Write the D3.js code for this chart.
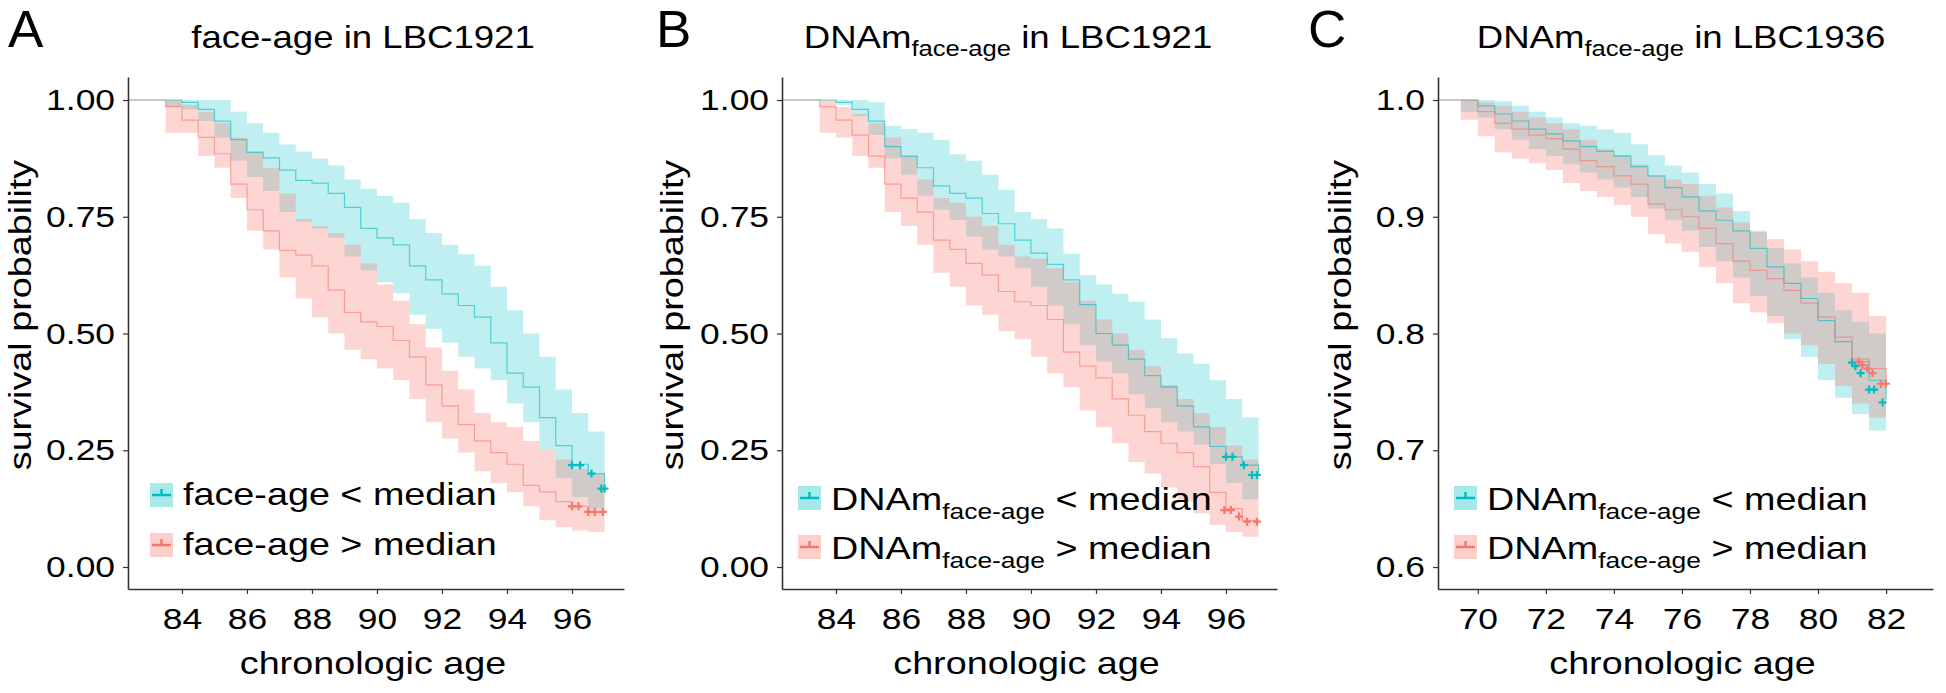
<!DOCTYPE html>
<html lang="en">
<head>
<meta charset="utf-8">
<title>Survival by face-age and DNAm face-age</title>
<script src="https://cdn.jsdelivr.net/npm/d3@7"></script>
<style>
  body { margin: 0; background: #fff; }
  text { font-family: "Liberation Sans", Arial, sans-serif; fill: #000; }
</style>
</head>
<body>
<script>
// ---- values ----
// ticks
const xTicksAB = [84, 86, 88, 90, 92, 94, 96];
const xTicksC = [70, 72, 74, 76, 78, 80, 82];
const yTicksAB = [0, 0.25, 0.5, 0.75, 1];
const yTicksC = [0.6, 0.7, 0.8, 0.9, 1.0];

// A: face-age in LBC1921 (step starts)
const agesA = [83.0, 83.5, 84.0, 84.5, 85.0, 85.5, 86.0, 86.5, 87.0, 87.5, 88.0, 88.5, 89.0, 89.5, 90.0,
               90.5, 91.0, 91.5, 92.0, 92.5, 93.0, 93.5, 94.0, 94.5, 95.0, 95.5, 96.0, 96.5, 97.0];
const lowSurvA  = [1.0, 1.0, 0.995, 0.98, 0.955, 0.915, 0.888, 0.876, 0.85, 0.828, 0.822, 0.80, 0.77, 0.725, 0.705,
                   0.69, 0.645, 0.615, 0.585, 0.56, 0.535, 0.48, 0.415, 0.385, 0.32, 0.26, 0.22, 0.20, 0.168];
const lowUpperA = [1.0, 1.0, 1.0, 1.0, 1.0, 0.975, 0.95, 0.93, 0.905, 0.89, 0.875, 0.86, 0.83, 0.81, 0.795,
                   0.78, 0.745, 0.715, 0.69, 0.67, 0.645, 0.60, 0.55, 0.50, 0.45, 0.38, 0.33, 0.29, 0.265];
const lowLowerA = [1.0, 0.985, 0.98, 0.955, 0.92, 0.87, 0.835, 0.805, 0.76, 0.74, 0.725, 0.705, 0.665, 0.635, 0.61,
                   0.586, 0.54, 0.51, 0.48, 0.45, 0.425, 0.40, 0.35, 0.31, 0.25, 0.19, 0.15, 0.125, 0.10];
const highSurvA  = [1.0, 0.986, 0.957, 0.92, 0.885, 0.82, 0.765, 0.72, 0.678, 0.668, 0.645, 0.593, 0.545, 0.525, 0.515,
                    0.485, 0.45, 0.39, 0.345, 0.305, 0.27, 0.245, 0.22, 0.175, 0.161, 0.14, 0.13, 0.118, 0.118];
const highUpperA = [1.0, 1.0, 0.99, 0.975, 0.95, 0.92, 0.89, 0.855, 0.8, 0.745, 0.73, 0.715, 0.69, 0.65, 0.605,
                    0.57, 0.52, 0.47, 0.42, 0.38, 0.33, 0.31, 0.3, 0.27, 0.25, 0.23, 0.21, 0.2, 0.19];
const highLowerA = [1.0, 0.93, 0.93, 0.88, 0.855, 0.79, 0.72, 0.68, 0.62, 0.575, 0.535, 0.5, 0.465, 0.445, 0.425,
                    0.4, 0.36, 0.31, 0.275, 0.245, 0.205, 0.18, 0.16, 0.13, 0.1, 0.085, 0.078, 0.075, 0.073];
const lowCensorAgeA = [96.0, 96.25, 96.6, 96.9, 97.0];
const lowCensorSurvA = [0.218, 0.218, 0.2, 0.168, 0.168];
const highCensorAgeA = [96.0, 96.2, 96.5, 96.7, 96.95];
const highCensorSurvA = [0.13, 0.13, 0.118, 0.118, 0.118];

// B: DNAm face-age in LBC1921
const agesB = agesA;
const lowSurvB  = [1.0, 1.0, 0.995, 0.98, 0.955, 0.9, 0.88, 0.855, 0.816, 0.8, 0.79, 0.757, 0.735, 0.7, 0.672,
                   0.648, 0.615, 0.562, 0.5, 0.475, 0.445, 0.41, 0.385, 0.345, 0.3, 0.258, 0.236, 0.218, 0.197];
const lowUpperB = [1.0, 1.0, 1.0, 1.0, 0.995, 0.945, 0.938, 0.93, 0.915, 0.884, 0.87, 0.84, 0.808, 0.76, 0.745,
                   0.725, 0.671, 0.625, 0.605, 0.585, 0.568, 0.53, 0.49, 0.457, 0.435, 0.4, 0.36, 0.32, 0.29];
const lowLowerB = [1.0, 1.0, 0.99, 0.965, 0.925, 0.875, 0.84, 0.795, 0.765, 0.743, 0.707, 0.68, 0.665, 0.64, 0.6,
                   0.56, 0.52, 0.475, 0.44, 0.415, 0.37, 0.34, 0.31, 0.29, 0.262, 0.22, 0.18, 0.145, 0.12];
const highSurvB  = [1.0, 0.986, 0.957, 0.925, 0.88, 0.82, 0.79, 0.76, 0.7, 0.68, 0.65, 0.625, 0.59, 0.568, 0.56,
                    0.53, 0.46, 0.43, 0.405, 0.36, 0.325, 0.29, 0.265, 0.245, 0.215, 0.16, 0.125, 0.1, 0.097];
const highUpperB = [1.0, 1.0, 0.985, 0.97, 0.95, 0.92, 0.88, 0.83, 0.79, 0.78, 0.75, 0.73, 0.69, 0.665, 0.66,
                    0.64, 0.61, 0.57, 0.53, 0.5, 0.465, 0.43, 0.39, 0.36, 0.33, 0.3, 0.26, 0.23, 0.2];
const highLowerB = [1.0, 0.93, 0.92, 0.88, 0.855, 0.76, 0.73, 0.69, 0.63, 0.6, 0.56, 0.54, 0.505, 0.488, 0.45,
                    0.415, 0.385, 0.335, 0.3, 0.265, 0.225, 0.2, 0.17, 0.14, 0.115, 0.09, 0.075, 0.065, 0.06];
const lowCensorAgeB = [96.0, 96.2, 96.55, 96.8, 96.95];
const lowCensorSurvB = [0.236, 0.236, 0.218, 0.197, 0.197];
const highCensorAgeB = [95.95, 96.15, 96.4, 96.65, 96.95];
const highCensorSurvB = [0.122, 0.122, 0.108, 0.097, 0.097];

// C: DNAm face-age in LBC1936
const agesC = [69.5, 70.0, 70.5, 71.0, 71.5, 72.0, 72.5, 73.0, 73.5, 74.0, 74.5, 75.0, 75.5,
               76.0, 76.5, 77.0, 77.5, 78.0, 78.5, 79.0, 79.5, 80.0, 80.5, 81.0, 81.5, 82.0];
const lowSurvC  = [1.0, 0.995, 0.988, 0.982, 0.975, 0.971, 0.965, 0.96, 0.956, 0.952, 0.943, 0.935, 0.925,
                   0.917, 0.905, 0.897, 0.888, 0.873, 0.857, 0.843, 0.83, 0.811, 0.793, 0.776, 0.76, 0.743];
const lowUpperC = [1.0, 1.0, 0.999, 0.995, 0.99, 0.985, 0.98, 0.978, 0.975, 0.972, 0.962, 0.953, 0.944,
                   0.938, 0.928, 0.92, 0.905, 0.888, 0.873, 0.86, 0.848, 0.835, 0.82, 0.81, 0.8, 0.79];
const lowLowerC = [0.99, 0.985, 0.975, 0.966, 0.958, 0.952, 0.945, 0.938, 0.932, 0.925, 0.917, 0.907, 0.897,
                   0.888, 0.874, 0.862, 0.848, 0.832, 0.815, 0.795, 0.78, 0.76, 0.745, 0.731, 0.717, 0.7];
const highSurvC  = [1.0, 0.99, 0.98, 0.975, 0.97, 0.967, 0.958, 0.948, 0.943, 0.935, 0.928, 0.911, 0.906,
                    0.9, 0.89, 0.877, 0.862, 0.854, 0.847, 0.837, 0.826, 0.814, 0.797, 0.778, 0.77, 0.757];
const highUpperC = [1.0, 0.998, 0.995, 0.99, 0.985, 0.98, 0.975, 0.966, 0.958, 0.953, 0.945, 0.935, 0.932,
                    0.928, 0.918, 0.908, 0.895, 0.887, 0.881, 0.872, 0.862, 0.853, 0.843, 0.835, 0.815, 0.8];
const highLowerC = [0.983, 0.969, 0.955, 0.95, 0.946, 0.94, 0.929, 0.922, 0.917, 0.91, 0.9, 0.885, 0.877,
                    0.87, 0.857, 0.843, 0.826, 0.818, 0.809, 0.8, 0.79, 0.774, 0.755, 0.74, 0.728, 0.714];
const lowCensorAgeC = [81.0, 81.1, 81.25, 81.5, 81.65, 81.9];
const lowCensorSurvC = [0.775, 0.772, 0.766, 0.752, 0.752, 0.741];
const highCensorAgeC = [81.2, 81.3, 81.45, 81.6, 81.85, 82.0];
const highCensorSurvC = [0.776, 0.773, 0.77, 0.766, 0.757, 0.757];

// ---- look ----
const W = 1946, H = 693;
const SX = 1.18;            // the figure's font runs wide along its baseline
const TEAL = "#00BFC4", PINK = "#F8766D";
const AXIS = "#333";

const svg = d3.select("body").append("svg")
  .attr("width", W).attr("height", H);

// text, optionally with a subscript piece, widened along its baseline
function label(x, y, size, anchor, pieces, rotate, sx) {
  const g = svg.append("g")
    .attr("transform", `translate(${x},${y})` + (rotate ? " rotate(-90)" : "") + ` scale(${sx || SX},1)`);
  const t = g.append("text").attr("text-anchor", anchor).attr("font-size", size);
  let shifted = false;
  pieces.forEach(p => {
    const sub = typeof p !== "string";
    const ts = t.append("tspan").text(sub ? p.sub : p);
    if (sub) { ts.attr("font-size", size * 0.7).attr("dy", size * 0.27); shifted = true; }
    else if (shifted) { ts.attr("dy", -size * 0.27); shifted = false; }
  });
  return g;
}

const dnamLow = ["DNAm", {sub: "face-age"}, " < median"];
const dnamHigh = ["DNAm", {sub: "face-age"}, " > median"];

const panels = [
  { letter: "A", letterX: 8, left: 128, right: 624, xDomain: [82.34, 97.6], yDomain: [-0.0471, 1.0493],
    xTicks: xTicksAB, yTicks: yTicksAB, yFmt: d3.format(".2f"), ages: agesA,
    title: ["face-age in LBC1921"], titleX: 363, yTitleX: 31,
    low:  { surv: lowSurvA, upper: lowUpperA, lower: lowLowerA, cAge: lowCensorAgeA, cSurv: lowCensorSurvA },
    high: { surv: highSurvA, upper: highUpperA, lower: highLowerA, cAge: highCensorAgeA, cSurv: highCensorSurvA },
    legendX: 150, legendY: [495, 545], textDy: 10,
    legendText: [["face-age < median"], ["face-age > median"]] },
  { letter: "B", letterX: 656, left: 782, right: 1277, xDomain: [82.34, 97.57], yDomain: [-0.0471, 1.0493],
    xTicks: xTicksAB, yTicks: yTicksAB, yFmt: d3.format(".2f"), ages: agesB,
    title: ["DNAm", {sub: "face-age"}, " in LBC1921"], titleX: 1008, yTitleX: 683,
    low:  { surv: lowSurvB, upper: lowUpperB, lower: lowLowerB, cAge: lowCensorAgeB, cSurv: lowCensorSurvB },
    high: { surv: highSurvB, upper: highUpperB, lower: highLowerB, cAge: highCensorAgeB, cSurv: highCensorSurvB },
    legendX: 798, legendY: [498, 547], textDy: 12,
    legendText: [dnamLow, dnamHigh] },
  { letter: "C", letterX: 1308, left: 1438, right: 1933, xDomain: [68.83, 83.38], yDomain: [0.5812, 1.0197],
    xTicks: xTicksC, yTicks: yTicksC, yFmt: d3.format(".1f"), ages: agesC,
    title: ["DNAm", {sub: "face-age"}, " in LBC1936"], titleX: 1681, yTitleX: 1351,
    low:  { surv: lowSurvC, upper: lowUpperC, lower: lowLowerC, cAge: lowCensorAgeC, cSurv: lowCensorSurvC },
    high: { surv: highSurvC, upper: highUpperC, lower: highLowerC, cAge: highCensorAgeC, cSurv: highCensorSurvC },
    legendX: 1454, legendY: [498, 547], textDy: 12,
    legendText: [dnamLow, dnamHigh] }
];

const TOP = 77, BOTTOM = 589;

panels.forEach(p => {
  const x = d3.scaleLinear().domain(p.xDomain).range([p.left, p.right]);
  const y = d3.scaleLinear().domain(p.yDomain).range([BOTTOM, TOP]);

  // panel letter and title
  label(p.letterX, 47, 52, "start", [p.letter], false, 1.02);
  label(p.titleX, 48, 31, "middle", p.title);

  const groups = [
    { s: p.low, color: TEAL, alpha: 0.25 },
    { s: p.high, color: PINK, alpha: 0.3 }
  ].map(d => {
    const pts = p.ages.map((a, i) => ({ a, s: d.s.surv[i], lo: d.s.lower[i], hi: d.s.upper[i] }));
    pts.unshift({ a: p.xDomain[0], s: 1, lo: 1, hi: 1 });
    const end = Math.max(p.ages[p.ages.length - 1], d3.max(d.s.cAge));
    const last = pts[pts.length - 1];
    pts.push({ a: end, s: last.s, lo: last.lo, hi: last.hi });
    return { pts, color: d.color, alpha: d.alpha, s: d.s };
  });

  const area = d3.area().curve(d3.curveStepAfter)
    .x(d => x(d.a)).y0(d => y(d.lo)).y1(d => y(d.hi));
  const line = d3.line().curve(d3.curveStepAfter)
    .x(d => x(d.a)).y(d => y(d.s));

  svg.append("g").selectAll("path").data(groups).join("path")
    .attr("d", d => area(d.pts))
    .attr("fill", d => d.color).attr("fill-opacity", d => d.alpha);

  svg.append("g").selectAll("path").data(groups).join("path")
    .attr("d", d => line(d.pts))
    .attr("fill", "none").attr("stroke", d => d.color)
    .attr("stroke-opacity", 0.6).attr("stroke-width", 1.2);

  // censoring marks
  groups.forEach(gr => {
    svg.append("g").selectAll("path").data(gr.s.cAge).join("path")
      .attr("d", (a, i) => {
        const cx = x(a), cy = y(gr.s.cSurv[i]);
        return `M${cx - 4},${cy}h8M${cx},${cy - 4}v8`;
      })
      .attr("stroke", gr.color).attr("stroke-width", 2.2).attr("fill", "none");
  });

  // axes
  const yAxis = svg.append("g").attr("transform", `translate(${p.left},0)`)
    .call(d3.axisLeft(y).tickValues(p.yTicks).tickFormat(p.yFmt).tickSize(5).tickSizeOuter(0));
  yAxis.selectAll("text").attr("x", 0).attr("font-size", 30)
    .attr("transform", `translate(-13,0) scale(${SX},1)`);

  const xAxis = svg.append("g").attr("transform", `translate(0,${BOTTOM})`)
    .call(d3.axisBottom(x).tickValues(p.xTicks).tickFormat(d3.format("d")).tickSize(5).tickSizeOuter(0));
  xAxis.selectAll("text").attr("y", 19).attr("font-size", 30)
    .attr("transform", `scale(${SX},1)`);

  [yAxis, xAxis].forEach(ax => {
    ax.select(".domain").attr("stroke", AXIS).attr("stroke-width", 1.6);
    ax.selectAll(".tick line").attr("stroke", AXIS).attr("stroke-width", 1.2);
    ax.selectAll("text").attr("fill", "#000").style("font-family", '"Liberation Sans", Arial, sans-serif');
  });

  // axis titles
  label((p.left + p.right) / 2 - 3, 674, 32, "middle", ["chronologic age"]);
  label(p.yTitleX, 315, 32, "middle", ["survival probability"], true);

  // legend
  groups.forEach((gr, i) => {
    const cy = p.legendY[i], lx = p.legendX;
    svg.append("rect").attr("x", lx).attr("y", cy - 12).attr("width", 23).attr("height", 24)
      .attr("fill", gr.color).attr("fill-opacity", 0.35);
    svg.append("path").attr("d", `M${lx + 2},${cy}h19M${lx + 11.5},${cy - 6}v6`)
      .attr("stroke", gr.color).attr("stroke-width", 2.5).attr("fill", "none");
    label(lx + 33, cy + p.textDy, 32, "start", p.legendText[i]);
  });
});
</script>
</body>
</html>
